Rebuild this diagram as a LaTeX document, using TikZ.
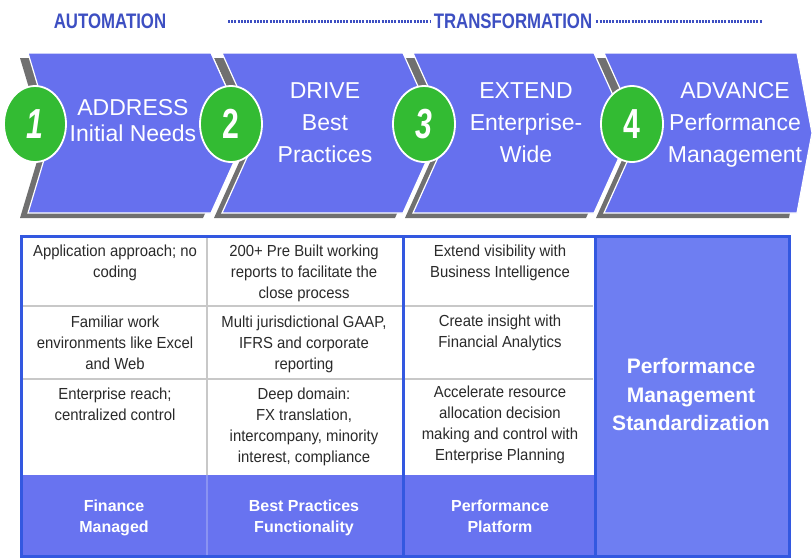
\documentclass[tikz,border=0pt]{standalone}
\usepackage{fontspec}
\setmainfont{Liberation Sans}
\newfontfamily\hdrfont[FakeStretch=0.8]{Liberation Sans}
\newfontfamily\cellfont[FakeStretch=0.93]{Liberation Sans}
\newfontfamily\numfont[FakeStretch=0.72]{Liberation Sans}
\usetikzlibrary{shapes.geometric}

\definecolor{chevblue}{HTML}{6670EE}
\definecolor{shadegray}{HTML}{707070}
\definecolor{numgreen}{HTML}{33BB33}
\definecolor{hdrblue}{HTML}{3D4FC2}
\definecolor{framblue}{HTML}{3358E0}
\definecolor{cellblue}{HTML}{6873F0}
\definecolor{stdblue}{HTML}{6E7EF2}
\definecolor{rulegray}{HTML}{C8C8C8}
\definecolor{textgray}{HTML}{2A2A2A}
\definecolor{botrule}{HTML}{8A93F2}

\begin{document}
\begin{tikzpicture}[x=1pt,y=-1pt,
        chevfill/.style={fill=chevblue, draw=white, line width=1.2pt},
        chevshade/.style={fill=shadegray},
        numdisc/.style={ellipse, fill=numgreen, draw=white, line width=1.8pt,
            minimum width=62pt, minimum height=76pt, inner sep=0pt, text=white,
            font=\numfont\bfseries\fontsize{42}{42}\selectfont},
        chevtext/.style={anchor=north, inner sep=0pt, align=center, text=white,
            font=\fontsize{23}{32}\selectfont, execute at begin node={\rule{0pt}{18pt}}},
        celltext/.style={anchor=north, inner sep=0pt, align=center, text=textgray,
            font=\cellfont\fontsize{16}{21}\selectfont, execute at begin node={\rule{0pt}{13pt}}},
        bottext/.style={anchor=north, inner sep=0pt, align=center, text=white,
            font=\bfseries\fontsize{16}{21}\selectfont, execute at begin node={\rule{0pt}{13pt}}},
        stdtext/.style={anchor=north, inner sep=0pt, align=center, text=white,
            font=\bfseries\fontsize{21}{28.5}\selectfont, execute at begin node={\rule{0pt}{17pt}}},
        hdrtext/.style={anchor=base, inner sep=4pt, text=hdrblue,
            font=\hdrfont\bfseries\fontsize{21}{21}\selectfont},
        hdrdots/.style={draw=hdrblue, line width=2.2pt, dash pattern=on 2pt off 1.2pt},
        cellrule/.style={draw=rulegray, line width=1.2pt},
        tableframe/.style={draw=framblue, line width=3pt}]
        \useasboundingbox (0,0) rectangle (812,558);
        \fill[white] (0,0) rectangle (812,558);

        % header
        \node [hdrtext] (AUT) at (110,28) {AUTOMATION};
        \node [hdrtext] (TRF) at (513,28.5) {TRANSFORMATION};
        \coordinate (DL) at (228,21.5);
        \coordinate (DR) at (762,21.5);
        \draw [hdrdots] (DL) -- (DL -| TRF.west);
        \draw [hdrdots] (DR -| TRF.east) -- (DR);

        % chevrons
        \foreach \xl/\xr/\dl/\dr in {28/211/24/36, 222/403/36/36, 413/594/36/36, 604/797/36/15}
            \fill [chevshade, shift={(-8,5)}] (\xl,53) -- (\xr,53) -- ++(\dr,80) -- (\xr,213)
                -- (\xl,213) -- ++(\dl,-80) -- cycle;
        \foreach \xl/\xr/\dl/\dr in {28/211/24/36, 222/403/36/36, 413/594/36/36, 604/797/36/15}
            \filldraw [chevfill] (\xl,53) -- (\xr,53) -- ++(\dr,80) -- (\xr,213)
                -- (\xl,213) -- ++(\dl,-80) -- cycle;

        \node [numdisc] (N1) at (35,124) {\itshape 1};
        \node [numdisc] (N2) at (231,124) {2};
        \node [numdisc] (N3) at (424,124) {\itshape 3};
        \node [numdisc] (N4) at (632,124) {4};

        \node [chevtext, font=\fontsize{23}{26.5}\selectfont] (T1) at (133,99) {ADDRESS\\Initial Needs};
        \node [chevtext] (T2) at (325,82) {DRIVE\\Best\\Practices};
        \node [chevtext] (T3) at (526,82) {EXTEND\\Enterprise-\\Wide};
        \node [chevtext] (T4) at (735,82) {ADVANCE\\Performance\\Management};

        % table
        \fill [cellblue] (21.5,475) rectangle (595,556.5);
        \fill [stdblue] (595,236) rectangle (789,556.5);
        \draw [cellrule] (23,306) -- (593,306);
        \draw [cellrule] (23,379) -- (593,379);
        \draw [cellrule] (207,237) -- (207,475);
        \draw [draw=botrule, line width=1.2pt] (207,475) -- (207,555);
        \draw [tableframe] (21.5,236) rectangle (789,556.5);
        \draw [tableframe] (403.5,236) -- (403.5,556.5);
        \draw [tableframe] (595,236) -- (595,556.5);

        \node [celltext] (A1) at (115,245) {Application approach; no\\coding};
        \node [celltext] (B1) at (304,245) {200+ Pre Built working\\reports to facilitate the\\close process};
        \node [celltext] (C1) at (500,245) {Extend visibility with\\Business Intelligence};
        \node [celltext] (A2) at (115,316) {Familiar work\\environments like Excel\\and Web};
        \node [celltext] (B2) at (304,316) {Multi jurisdictional GAAP,\\IFRS and corporate\\reporting};
        \node [celltext] (C2) at (500,315) {Create insight with\\Financial Analytics};
        \node [celltext] (A3) at (115,388) {Enterprise reach;\\centralized control};
        \node [celltext] (B3) at (304,388) {Deep domain:\\FX translation,\\intercompany, minority\\interest, compliance};
        \node [celltext] (C3) at (500,386) {Accelerate resource\\allocation decision\\making and control with\\Enterprise Planning};

        \node [bottext] (A4) at (114,499.5) {Finance\\Managed};
        \node [bottext] (B4) at (304,499.5) {Best Practices\\Functionality};
        \node [bottext] (C4) at (500,499.5) {Performance\\Platform};
        \node [stdtext] (D1) at (691,358.5) {Performance\\Management\\Standardization};
    \end{tikzpicture}
\end{document}
